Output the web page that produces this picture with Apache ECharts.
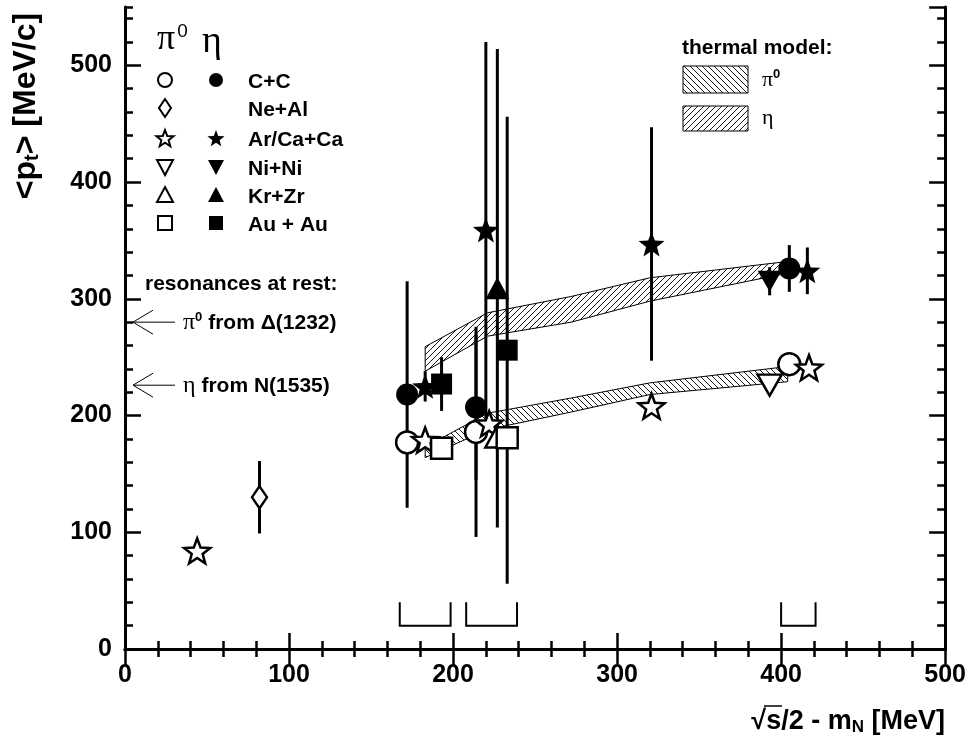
<!DOCTYPE html>
<html>
<head>
<meta charset="utf-8">
<script src="https://cdn.jsdelivr.net/npm/echarts@6/dist/echarts.min.js"></script>
<style>html,body{margin:0;padding:0;background:#fff}#main{width:969px;height:743px}</style>
</head>
<body>
<div id="main"></div>
<script>
// [sqrt(s)/2 - mN, <pt>, error]
var pi0CC = [[172, 177, 0], [214, 186, 90], [405, 244, 0]];
var etaCC = [[172, 218, 97], [214, 207, 62], [405, 326, 20]];
var pi0NeAl = [[82, 130, 31]];
var pi0Ar = [[44, 84, 0], [183, 179, 0], [222, 193, 0], [321, 208, 0], [417, 241, 6]];
var etaAr = [[183, 225, 13], [220, 359, 161], [321, 347, 100], [416, 324, 20]];
var pi0Ni = [[393, 226, 0]];
var etaNi = [[393, 315, 12]];
var pi0Kr = [[227, 182, 0]];
var etaKr = [[227, 309, 205]];
var pi0Au = [[193, 172, 0], [233, 181, 0]];
var etaAu = [[193, 227, 23], [233, 256, 200]];

// thermal model bands
var bandX = [183, 221, 272, 320, 404];
var etaBandLo = [238, 268, 280, 298, 322];
var etaBandHi = [259, 288, 302, 318, 332];
var pi0BandLo = [164, 188, 203, 218, 229];
var pi0BandHi = [173, 202, 215, 228, 242];

// brackets near the x axis
var bracketFrom = [167.5, 208, 400];
var bracketTo = [198.5, 239, 421];
var bracketLow = 20, bracketHigh = 40;

// resonances at rest
var resonanceY = [280, 226];
var resonanceText = ['{g|π}{sup|0} from Δ(1232)', '{g|η} from N(1535)'];

var legendLabels = ['C+C', 'Ne+Al', 'Ar/Ca+Ca', 'Ni+Ni', 'Kr+Zr', 'Au + Au'];

var SANS = "'Liberation Sans', Arial, Helvetica, sans-serif";
var SERIF = "'Liberation Serif', 'DejaVu Serif', serif";

function starPts(cx, cy, R, ratio) {
  var pts = [];
  for (var i = 0; i < 10; i++) {
    var r = i % 2 === 0 ? R : R * ratio;
    var a = -Math.PI / 2 + i * Math.PI / 5;
    pts.push([cx + r * Math.cos(a), cy + r * Math.sin(a)]);
  }
  return pts;
}
var starPath = 'path://M' + starPts(50, 50, 50, 0.42).map(function (p) {
  return p[0].toFixed(2) + ',' + p[1].toFixed(2);
}).join('L') + 'Z';
var triDownPath = 'path://M0,0L100,0L50,87Z';

function hatch(dir) {
  var c = document.createElement('canvas');
  c.width = 6; c.height = 6;
  var ctx = c.getContext('2d');
  ctx.fillStyle = '#fff';
  ctx.fillRect(0, 0, 6, 6);
  ctx.strokeStyle = '#000';
  ctx.lineWidth = 0.9;
  ctx.beginPath();
  if (dir > 0) {
    ctx.moveTo(-1, 7); ctx.lineTo(7, -1);
  } else {
    ctx.moveTo(-1, -1); ctx.lineTo(7, 7);
  }
  ctx.stroke();
  return c;
}
var etaFill = { image: hatch(1), repeat: 'repeat' };
var pi0Fill = { image: hatch(-1), repeat: 'repeat' };

var chartDom = document.getElementById('main');
var myChart = echarts.init(chartDom);
var option;

function pts(data, symbol, size, filled) {
  return {
    type: 'scatter',
    data: data.map(function (d) { return [d[0], d[1]]; }),
    symbol: symbol,
    symbolSize: size,
    silent: true,
    z: 5,
    itemStyle: filled ? { color: '#000', opacity: 1 } : { color: '#fff', borderColor: '#000', borderWidth: 2.5, opacity: 1 }
  };
}

function band(lo, hi, fill) {
  return {
    type: 'custom',
    silent: true,
    z: 2,
    data: [[bandX[0], lo[0]]],
    renderItem: function (params, api) {
      var points = [];
      for (var i = 0; i < bandX.length; i++) points.push(api.coord([bandX[i], hi[i]]));
      for (var j = bandX.length - 1; j >= 0; j--) points.push(api.coord([bandX[j], lo[j]]));
      return { type: 'polygon', shape: { points: points }, style: { fill: fill, stroke: '#000', lineWidth: 1 } };
    }
  };
}

var allPoints = [].concat(pi0CC, etaCC, pi0NeAl, pi0Ar, etaAr, pi0Ni, etaNi, pi0Kr, etaKr, pi0Au, etaAu)
  .filter(function (d) { return d[2] > 0; });

var axisCommon = {
  type: 'value',
  splitLine: { show: false },
  axisLine: { show: true, lineStyle: { color: '#000', width: 3 } }
};
function xAx(pos) {
  return Object.assign({}, axisCommon, {
    position: pos, min: 0, max: 500, interval: 100,
    axisTick: { inside: true, length: 16, lineStyle: { color: '#000', width: 2.5 } },
    minorTick: { show: true, splitNumber: 5, length: 8, lineStyle: { color: '#000', width: 2.5 } },
    axisLabel: pos === 'bottom' ? { fontSize: 25, fontWeight: 'bold', fontFamily: SANS, color: '#000', margin: 14 } : { show: false }
  });
}
function yAx(pos, step, len, labels) {
  return Object.assign({}, axisCommon, {
    position: pos, min: 0, max: 550, interval: step,
    axisLine: { show: step === 100, lineStyle: { color: '#000', width: 3 } },
    axisTick: { inside: true, length: len, lineStyle: { color: '#000', width: 2.5 } },
    axisLabel: labels ? { fontSize: 25, fontWeight: 'bold', fontFamily: SANS, color: '#000', margin: 13, showMaxLabel: false } : { show: false }
  });
}

// legend graphics
var graphics = [];
var rowY = [80, 108, 138, 167, 195, 223];
var colA = 165, colB = 216;
function gText(x, y, text, size, extra) {
  var st = Object.assign({ text: text, fill: '#000', font: 'bold ' + size + 'px ' + SANS, textAlign: 'left', textVerticalAlign: 'middle', align: 'left', verticalAlign: 'middle' }, extra || {});
  return { type: 'text', x: x, y: y, style: st, z: 10 };
}
function gSym(kind, cx, cy, filled) {
  var style = filled ? { fill: '#000' } : { fill: '#fff', stroke: '#000', lineWidth: 2 };
  if (kind === 'circle') return { type: 'circle', shape: { cx: cx, cy: cy, r: 7 }, style: style };
  if (kind === 'rect') return { type: 'rect', shape: { x: cx - 7, y: cy - 7, width: 14, height: 14 }, style: style };
  if (kind === 'diamond') return { type: 'polygon', shape: { points: [[cx, cy - 9], [cx + 6, cy], [cx, cy + 9], [cx - 6, cy]] }, style: style };
  if (kind === 'star') return { type: 'polygon', shape: { points: starPts(cx, cy + 1, 9, 0.42) }, style: style };
  if (kind === 'tri') return { type: 'polygon', shape: { points: [[cx, cy - 8], [cx + 8, cy + 7], [cx - 8, cy + 7]] }, style: style };
  if (kind === 'triDown') return { type: 'polygon', shape: { points: [[cx - 8, cy - 7], [cx + 8, cy - 7], [cx, cy + 8]] }, style: style };
}
var legendKinds = ['circle', 'diamond', 'star', 'triDown', 'tri', 'rect'];
legendKinds.forEach(function (k, i) {
  graphics.push(gSym(k, colA, rowY[i], false));
  if (k !== 'diamond') graphics.push(gSym(k, colB, rowY[i], true));
  graphics.push(gText(248, rowY[i] + 2, legendLabels[i], 21));
});
graphics.push({
  type: 'text', x: 157, y: 40, z: 10,
  style: {
    text: '{g|π}{s|0}', fill: '#000', textVerticalAlign: 'middle', verticalAlign: 'middle',
    rich: {
      g: { font: '36px ' + SERIF, fill: '#000', lineHeight: 40, verticalAlign: 'middle' },
      s: { font: '19px ' + SANS, fill: '#000', verticalAlign: 'top', padding: [2, 0, 0, 2] }
    }
  }
});
graphics.push({ type: 'text', x: 202, y: 42, z: 10, style: { text: 'η', font: '38px ' + SERIF, fill: '#000', textVerticalAlign: 'middle', verticalAlign: 'middle' } });
graphics.push(gText(682, 48, 'thermal model:', 21));
graphics.push({ type: 'rect', shape: { x: 683, y: 66, width: 65, height: 27 }, style: { fill: pi0Fill, stroke: '#000', lineWidth: 1 } });
graphics.push({ type: 'rect', shape: { x: 683, y: 106, width: 65, height: 25 }, style: { fill: etaFill, stroke: '#000', lineWidth: 1 } });
graphics.push({
  type: 'text', x: 762, y: 80, z: 10,
  style: { text: '{g|π}{s|0}', textVerticalAlign: 'middle', verticalAlign: 'middle',
    rich: { g: { font: '22px ' + SERIF, fill: '#000', lineHeight: 24 }, s: { font: 'bold 13px ' + SANS, fill: '#000', verticalAlign: 'top' } } }
});
graphics.push({ type: 'text', x: 762, y: 118, z: 10, style: { text: 'η', font: '22px ' + SERIF, fill: '#000', textVerticalAlign: 'middle', verticalAlign: 'middle' } });
graphics.push(gText(145, 284, 'resonances at rest:', 21));
// axis titles
graphics.push({
  type: 'text', x: 26, y: 106, rotation: Math.PI / 2, z: 10,
  style: {
    text: '<p{sub|t}> [MeV/c]', font: 'bold 32px ' + SANS, fill: '#000',
    textAlign: 'center', align: 'center', textVerticalAlign: 'middle', verticalAlign: 'middle',
    rich: { sub: { font: 'bold 20px ' + SANS, fill: '#000', verticalAlign: 'bottom', padding: [10, 0, 0, 0] } }
  }
});
graphics.push({
  type: 'text', x: 945, y: 722, z: 10,
  style: {
    text: '√s/2 - m{sub|N} [MeV]', font: 'bold 27px ' + SANS, fill: '#000',
    textAlign: 'right', align: 'right', textVerticalAlign: 'middle', verticalAlign: 'middle',
    rich: { sub: { font: 'bold 17px ' + SANS, fill: '#000', verticalAlign: 'bottom', padding: [9, 0, 0, 0] } }
  }
});
graphics.push({ type: 'line', shape: { x1: 764, y1: 706, x2: 782, y2: 706 }, style: { stroke: '#000', lineWidth: 1.5 } });

option = {
  animation: false,
  backgroundColor: '#fff',
  grid: { left: 125, right: 23, top: 7, bottom: 94 },
  xAxis: [xAx('bottom'), xAx('top')],
  yAxis: [yAx('left', 100, 16, true), yAx('left', 20, 8, false), yAx('right', 100, 16, false), yAx('right', 20, 8, false)],
  graphic: graphics,
  series: [
    band(pi0BandLo, pi0BandHi, pi0Fill),
    band(etaBandLo, etaBandHi, etaFill),
    {
      type: 'custom', silent: true, z: 3,
      data: allPoints,
      renderItem: function (params, api) {
        var x = api.value(0), y = api.value(1), e = api.value(2);
        var a = api.coord([x, y + e]), b = api.coord([x, y - e]);
        return { type: 'line', shape: { x1: a[0], y1: a[1], x2: b[0], y2: b[1] }, style: { stroke: '#000', lineWidth: 3 } };
      }
    },
    {
      type: 'custom', silent: true, z: 3,
      data: bracketFrom.map(function (f, i) { return [f, bracketTo[i]]; }),
      renderItem: function (params, api) {
        var f = api.value(0), t = api.value(1);
        var pts2 = [api.coord([f, bracketHigh]), api.coord([f, bracketLow]), api.coord([t, bracketLow]), api.coord([t, bracketHigh])];
        return { type: 'polyline', shape: { points: pts2 }, style: { stroke: '#000', lineWidth: 2, fill: null } };
      }
    },
    {
      type: 'custom', silent: true, z: 3,
      data: resonanceY.map(function (y) { return [0, y]; }),
      renderItem: function (params, api) {
        var p = api.coord([0, api.value(1)]);
        var x0 = p[0] + 8, y0 = p[1];
        return {
          type: 'group',
          children: [
            { type: 'line', shape: { x1: x0, y1: y0, x2: x0 + 42, y2: y0 }, style: { stroke: '#000', lineWidth: 1 } },
            { type: 'line', shape: { x1: x0, y1: y0, x2: x0 + 20, y2: y0 - 12 }, style: { stroke: '#000', lineWidth: 1 } },
            { type: 'line', shape: { x1: x0, y1: y0, x2: x0 + 20, y2: y0 + 12 }, style: { stroke: '#000', lineWidth: 1 } },
            {
              type: 'text', x: x0 + 50, y: y0 + 1,
              style: {
                text: resonanceText[params.dataIndex], font: 'bold 21px ' + SANS, fill: '#000',
                align: 'left', verticalAlign: 'middle',
                rich: {
                  g: { font: '24px ' + SERIF, fill: '#000' },
                  sup: { font: 'bold 13px ' + SANS, fill: '#000', verticalAlign: 'top' }
                }
              }
            }
          ]
        };
      }
    },
    pts(pi0CC, 'circle', 22, false),
    pts(etaCC, 'circle', 22, true),
    pts(pi0NeAl, 'diamond', [15, 22], false),
    pts(pi0Ar, starPath, [26, 25], false),
    pts(etaAr, starPath, [26, 25], true),
    pts(pi0Ni, triDownPath, [24, 21], false),
    pts(etaNi, triDownPath, [24, 21], true),
    pts(pi0Kr, 'triangle', [24, 22], false),
    pts(etaKr, 'triangle', [24, 22], true),
    pts(pi0Au, 'rect', 21, false),
    pts(etaAu, 'rect', 21, true)
  ]
};

option && myChart.setOption(option);
</script>
</body>
</html>
